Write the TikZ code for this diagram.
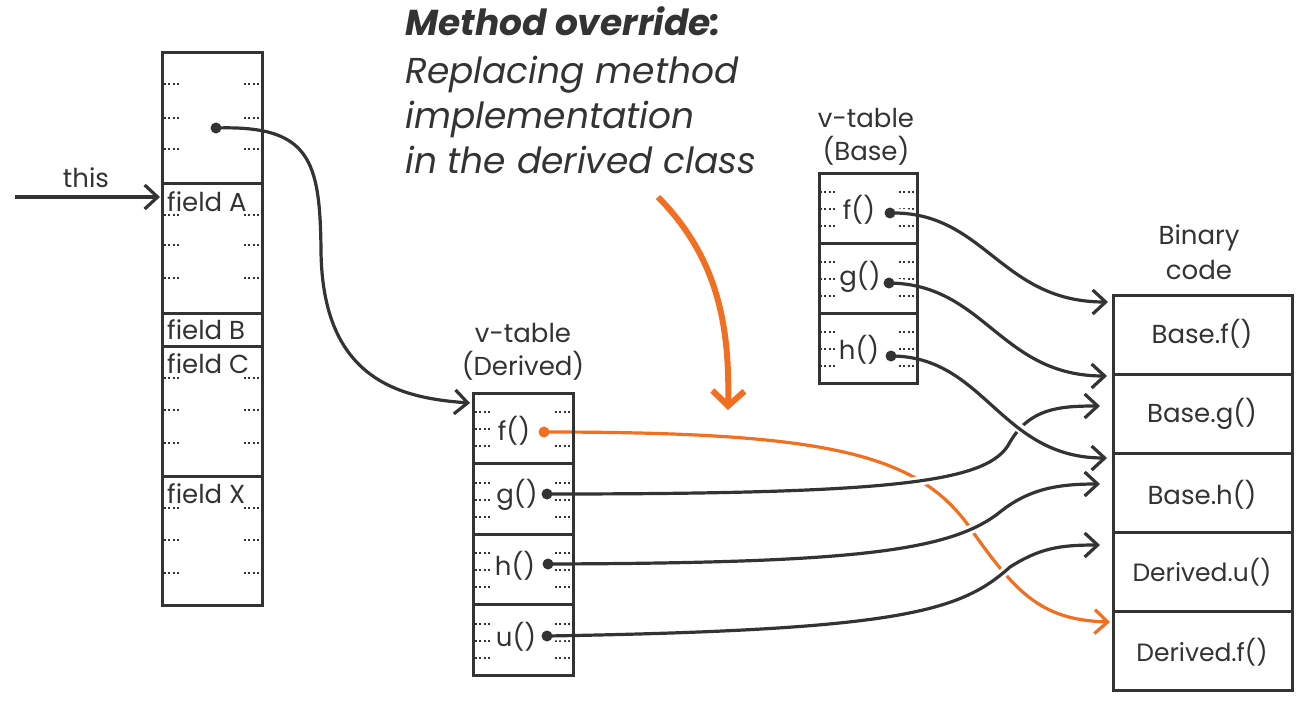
\documentclass[tikz,border=0pt]{standalone}
\usepackage{fontspec}
\setmainfont{Poppins}
\usetikzlibrary{arrows.meta}
\definecolor{dk}{HTML}{333333}
\definecolor{org}{HTML}{F26F21}
\begin{document}
\begin{tikzpicture}[x=1pt,y=-1pt,
  box/.style={draw=dk, line width=3pt, inner sep=0pt, outer sep=0pt, anchor=north west},
  lbl/.style={text=dk, font=\fontsize{26}{30}\selectfont, inner sep=0pt},
  conn/.style={draw=dk, line width=3.2pt, -{Straight Barb[length=13pt,width=24pt]}},
  oconn/.style={draw=org, line width=3.2pt, -{Straight Barb[length=13pt,width=24pt]}},
  halo/.style={preaction={draw=white, line width=9pt, -}},
  dotm/.style={draw=dk, line width=2pt, dash pattern=on 2pt off 2.4pt}]
\useasboundingbox (0,0) rectangle (1303,707);
\fill[white] (0,0) rectangle (1303,707);

% ---------- dotted marks ----------
\foreach \y in {84,118,149,215,245,278,378,410,443,508,540,573}{
  \draw[dotm] (164,\y) -- (180,\y);
  \draw[dotm] (244,\y) -- (261,\y);
}
\foreach \t in {393,463.5,534,604.5}{
  \foreach \o in {19,36,53}{
    \draw[dotm] (475,\t+\o) -- (491,\t+\o);
    \draw[dotm] (555,\t+\o) -- (572,\t+\o);
  }
}
\foreach \t in {173,243,313}{
  \foreach \o in {19,36,53}{
    \draw[dotm] (820,\t+\o) -- (836,\t+\o);
    \draw[dotm] (899,\t+\o) -- (916,\t+\o);
  }
}

% ---------- title ----------
\node[lbl, anchor=base west, font=\fontsize{36}{40}\selectfont\bfseries\itshape] (title) at (405,35) {Method override:};
\node[lbl, anchor=base west, font=\fontsize{36}{40}\selectfont\itshape] (t1) at (405,83) {Replacing method};
\node[lbl, anchor=base west, font=\fontsize{36}{40}\selectfont\itshape] (t2) at (405,128) {implementation};
\node[lbl, anchor=base west, font=\fontsize{36}{40}\selectfont\itshape] (t3) at (405,173) {in the derived class};

% ---------- labels ----------
\node[lbl] (vtd1) at (523,333) {v-table};
\node[lbl] (vtd2) at (523,366) {(Derived)};
\node[lbl] (vtb1) at (866,118) {v-table};
\node[lbl] (vtb2) at (866,151) {(Base)};
\node[lbl] (bc1) at (1199,238) {Binary};
\node[lbl] (bc2) at (1199,270) {code};
\node[lbl] (this) at (86,178) {this};

% ---------- pointer dots (positions) ----------
\coordinate (po) at (216,128);
\coordinate (pdf) at (544,432);
\coordinate (pdg) at (547,494);
\coordinate (pdh) at (548,564);
\coordinate (pdu) at (547,636);
\coordinate (pbf) at (890,213);
\coordinate (pbg) at (889,283);
\coordinate (pbh) at (891,356);

% arrow targets
\coordinate (thisS) at (15,197);
\coordinate (thisE) at (160,197);
\coordinate (tD) at (470,403);
\coordinate (tBf) at (1108,302);
\coordinate (tBg) at (1107,376);
\coordinate (tBh) at (1107,458);
\coordinate (tDg) at (1100,406);
\coordinate (tDh) at (1100,484);
\coordinate (tDu) at (1100,545);
\coordinate (tDf) at (1110,622);
\coordinate (bigS) at (658,197);
\coordinate (bigE) at (728,410);

% ---------- connectors ----------
\draw[conn] (thisS) -- (thisE);
\draw[conn] (po) .. controls (310,125) and (320,160) .. (321,250)
   .. controls (322,380) and (400,398) .. (tD);
\draw[oconn, halo] (pdf) .. controls (820,432) and (915,452) .. (968,525)
   .. controls (1015,592) and (1040,620) .. (tDf);
\draw[conn, halo] (pdg) .. controls (900,494) and (990,482) .. (1010,442)
   .. controls (1030,408) and (1060,406) .. (tDg);
\draw[conn, halo] (pdh) .. controls (850,563) and (950,552) .. (1000,512)
   .. controls (1030,488) and (1060,484) .. (tDh);
\draw[conn, halo] (pdu) .. controls (900,630) and (960,612) .. (1010,567)
   .. controls (1040,548) and (1060,545) .. (tDu);
\draw[conn, halo] (pbf) .. controls (985,211) and (1000,302) .. (tBf);
\draw[conn, halo] (pbg) .. controls (985,284) and (1000,376) .. (tBg);
\draw[conn, halo] (pbh) .. controls (985,356) and (1000,458) .. (tBh);
\draw[draw=org, line width=6pt, -{Straight Barb[length=15pt,width=32pt]}] (bigS) .. controls (715,255) and (730,320) .. (bigE);

% ---------- boxes ----------
\node[box, minimum width=100pt, minimum height=131pt] (o0) at (162,52) {};
\node[box, minimum width=100pt, minimum height=130pt] (oA) at (162,183) {};
\node[box, minimum width=100pt, minimum height=33pt] (oB) at (162,313) {};
\node[box, minimum width=100pt, minimum height=130pt] (oC) at (162,346) {};
\node[box, minimum width=100pt, minimum height=129pt] (oX) at (162,476) {};
\node[lbl, anchor=west] (fA) at (167,202) {field A};
\node[lbl, anchor=west] (fB) at (167,330) {field B};
\node[lbl, anchor=west] (fC) at (167,364) {field C};
\node[lbl, anchor=west] (fX) at (167,494) {field X};

\node[box, minimum width=100pt, minimum height=70.5pt] (df) at (473,393) {};
\node[box, minimum width=100pt, minimum height=70.5pt] (dg) at (473,463.5) {};
\node[box, minimum width=100pt, minimum height=70.5pt] (dh) at (473,534) {};
\node[box, minimum width=100pt, minimum height=70.5pt] (du) at (473,604.5) {};
\node[lbl] (dfl) at (514,431) {f()};
\node[lbl] (dgl) at (517,495) {g()};
\node[lbl] (dhl) at (515,566) {h()};
\node[lbl] (dul) at (516,637) {u()};

\node[box, minimum width=98pt, minimum height=70pt] (bf) at (819,173) {};
\node[box, minimum width=98pt, minimum height=70pt] (bg) at (819,243) {};
\node[box, minimum width=98pt, minimum height=70pt] (bh) at (819,313) {};
\node[lbl] (bfl) at (859,210) {f()};
\node[lbl] (bgl) at (860,277) {g()};
\node[lbl] (bhl) at (859,350) {h()};

\node[box, minimum width=179pt, minimum height=79pt] (c1) at (1113,295) {};
\node[box, minimum width=179pt, minimum height=79pt] (c2) at (1113,374) {};
\node[box, minimum width=179pt, minimum height=79pt] (c3) at (1113,453) {};
\node[box, minimum width=179pt, minimum height=79pt] (c4) at (1113,532) {};
\node[box, minimum width=179pt, minimum height=79pt] (c5) at (1113,611) {};
\node[lbl] (c1l) at (1202,334) {Base.f()};
\node[lbl] (c2l) at (1202,414) {Base.g()};
\node[lbl] (c3l) at (1202,495) {Base.h()};
\node[lbl, font=\fontsize{25}{30}\selectfont] (c4l) at (1202,572) {Derived.u()};
\node[lbl, font=\fontsize{25}{30}\selectfont] (c5l) at (1202,652) {Derived.f()};

% pointer dots on top
\node[circle, fill=dk, minimum size=11pt, inner sep=0pt] (npo) at (po) {};
\node[circle, fill=org, minimum size=11pt, inner sep=0pt] (npdf) at (pdf) {};
\foreach \p in {pdg,pdh,pdu,pbf,pbg,pbh}{ \node[circle, fill=dk, minimum size=11pt, inner sep=0pt] (n\p) at (\p) {}; }
\end{tikzpicture}
\end{document}
